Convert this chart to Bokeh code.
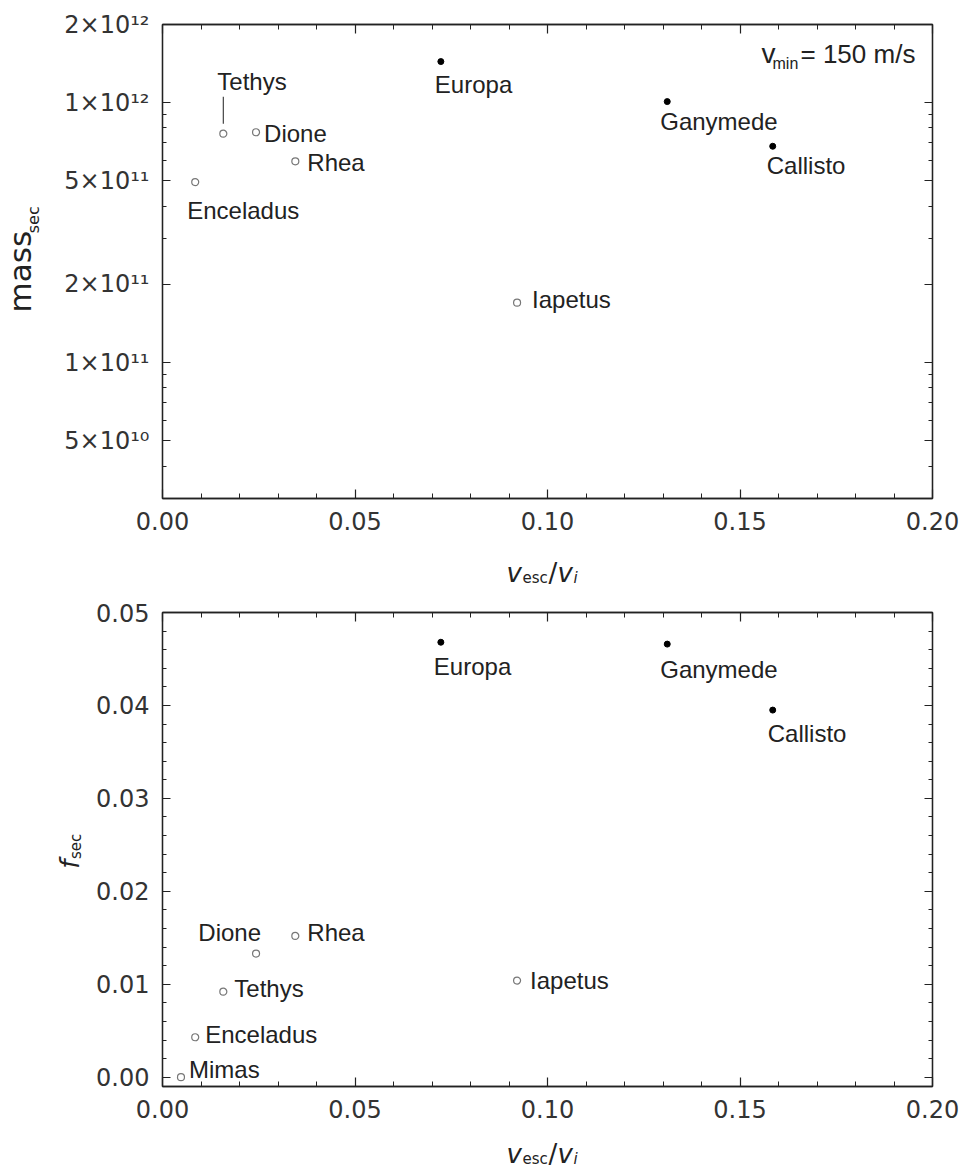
import math
from bokeh.plotting import figure
from bokeh.layouts import column, row
from bokeh.models import (ColumnDataSource, FixedTicker, LinearAxis, LogAxis, Label,
                          NumeralTickFormatter, Range1d, CustomLabelingPolicy)
from bokeh.core.properties import value
from bokeh.embed import file_html
from bokeh.resources import INLINE

# ---------------- data ----------------
moons = ["Mimas", "Enceladus", "Tethys", "Dione", "Rhea", "Iapetus", "Europa", "Ganymede", "Callisto"]
system = ["Saturn", "Saturn", "Saturn", "Saturn", "Saturn", "Saturn", "Jupiter", "Jupiter", "Jupiter"]
vesc_vi = [0.0048, 0.0085, 0.0158, 0.0243, 0.0345, 0.0921, 0.0723, 0.1311, 0.1585]
mass_sec = [None, 4.95e11, 7.6e11, 7.7e11, 5.95e11, 1.70e11, 1.44e12, 1.01e12, 6.8e11]
f_sec = [0.0000, 0.0043, 0.0092, 0.0133, 0.0152, 0.0104, 0.0468, 0.0466, 0.0395]

x_ticks = [0.0, 0.05, 0.10, 0.15, 0.20]
mass_ticks = [5e10, 1e11, 2e11, 5e11, 1e12, 2e12]
mass_tick_labels = ["5×10¹⁰", "1×10¹¹", "2×10¹¹", "5×10¹¹", "1×10¹²", "2×10¹²"]
f_ticks = [0.00, 0.01, 0.02, 0.03, 0.04, 0.05]
vmin_label = "= 150 m/s"

# ---------------- style / layout ----------------
# label offsets (pixels; dx right, dy down) and alignment for each moon label
CORR = 9  # baseline correction for 24px labels
top_dx = [0, -8, -6, 8, 12, 15, -6, -7, -6]
top_dy = [0, 37, -43, 10, 10, 6, 32, 29, 28]
top_align = ["left"] * 9
bot_dx = [8, 10, 11, 5, 12, 13, -7, -7, -5]
bot_dy = [1, 6, 6, -12, 6, 9, 33, 34, 32]
bot_align = ["left", "left", "left", "right", "left", "left", "left", "left", "left"]

INK = "#222222"
TICK_FONT = "DejaVu Sans"
LABEL_FONT = "Liberation Sans"

HIDE = CustomLabelingPolicy(code="""
for (const i of indices)
    indices.unset(i)
return indices
""")


def style_axis(ax, show_labels=True):
    ax.axis_line_color = INK
    ax.axis_line_width = 1.3
    ax.major_tick_in = 8
    ax.major_tick_out = 0
    ax.minor_tick_in = 4
    ax.minor_tick_out = 0
    ax.major_tick_line_color = INK
    ax.minor_tick_line_color = INK
    ax.major_tick_line_width = 1.2
    ax.minor_tick_line_width = 1.0
    ax.major_label_text_font = TICK_FONT
    ax.major_label_text_color = "#333333"
    if show_labels:
        ax.major_label_text_font_size = "24px"
        ax.major_label_standoff = 13
    else:
        ax.major_label_text_font_size = "2px"
        ax.major_label_standoff = 0
        ax.major_label_policy = HIDE
    ax.axis_label = None


def base_fig(width, height, y_range, y_type, mbl, mbt, mbb):
    p = figure(width=width, height=height, x_range=Range1d(0.0, 0.2), y_range=y_range,
               y_axis_type=y_type, output_backend="svg", toolbar_location=None,
               min_border_left=mbl, min_border_right=32, min_border_top=mbt,
               min_border_bottom=mbb)
    p.xgrid.visible = False
    p.ygrid.visible = False
    p.outline_line_color = INK
    p.outline_line_width = 1.3
    p.background_fill_color = "white"
    p.border_fill_color = "white"
    return p


def blank_fig(w, h):
    f = figure(width=w, height=h, x_range=Range1d(0, w), y_range=Range1d(h, 0),
               min_border=0, toolbar_location=None, output_backend="svg",
               x_axis_location=None, y_axis_location=None)
    for g in f.grid:
        g.visible = False
    f.outline_line_color = None
    f.border_fill_color = "white"
    f.background_fill_color = "white"
    return f


def put(f, x, y, text, size, font="DejaVu Sans", italic=False, angle=0.0):
    f.text(x=[x], y=[y], text=[text], angle=angle, text_align="left",
           text_baseline="alphabetic", text_font=value(font), text_font_size=value(size),
           text_font_style="italic" if italic else "normal", text_color=INK)


x_minor = [round(0.01 * i, 2) for i in range(21)]


def x_axes(p):
    p.xaxis.ticker = FixedTicker(ticks=x_ticks, minor_ticks=x_minor)
    p.xaxis.formatter = NumeralTickFormatter(format="0.00")
    style_axis(p.xaxis[0])
    p.xaxis[0].major_tick_in = 9
    p.xaxis[0].minor_tick_in = 5
    top = LinearAxis(ticker=FixedTicker(ticks=x_ticks, minor_ticks=x_minor))
    style_axis(top, show_labels=False)
    top.major_tick_in = 9
    top.minor_tick_in = 5
    p.add_layout(top, "above")


def x_label_fig(w, h, base):
    f = blank_fig(w, h)
    put(f, 506, base, "v", "26px", italic=True)
    put(f, 522, base + 5, "esc", "15px")
    put(f, 548, base, "/", "26px")
    put(f, 557, base, "v", "26px", italic=True)
    put(f, 573, base + 5, "i", "15px", italic=True)
    return f


# ---------------- top panel: mass_sec ----------------
ymin1, ymax1 = 3e10, 2e12
p1 = base_fig(908, 545, Range1d(ymin1, ymax1), "log", 106, 24, 47)
x_axes(p1)
mass_minor = [m * 10 ** e for e in (10, 11) for m in (3, 4, 6, 7, 8, 9)]
p1.yaxis.ticker = FixedTicker(ticks=mass_ticks, minor_ticks=mass_minor)
style_axis(p1.yaxis[0])
p1.yaxis[0].major_label_overrides = {t: s for t, s in zip(mass_ticks, mass_tick_labels)}
r1 = LogAxis(ticker=FixedTicker(ticks=mass_ticks, minor_ticks=mass_minor))
style_axis(r1, show_labels=False)
p1.add_layout(r1, "right")

idx1 = [i for i in range(len(moons)) if mass_sec[i] is not None]
sat1 = [i for i in idx1 if system[i] == "Saturn"]
jup1 = [i for i in idx1 if system[i] == "Jupiter"]
p1.scatter(x=[vesc_vi[i] for i in sat1], y=[mass_sec[i] for i in sat1], size=7,
           fill_color=None, line_color="#777777", line_width=1.2)
p1.scatter(x=[vesc_vi[i] for i in jup1], y=[mass_sec[i] for i in jup1], size=6,
           fill_color="black", line_color="black")

src1 = ColumnDataSource(dict(
    x=[vesc_vi[i] for i in idx1], y=[mass_sec[i] for i in idx1], name=[moons[i] for i in idx1],
    dx=[top_dx[i] for i in idx1], dy=[top_dy[i] - CORR for i in idx1],
    align=[top_align[i] for i in idx1]))
p1.text(x="x", y="y", text="name", x_offset="dx", y_offset="dy", text_align="align",
        text_baseline="alphabetic", source=src1, text_font=value(LABEL_FONT),
        text_font_size=value("24px"), text_color=INK)

# leader line for Tethys (pixel offsets converted to multiplicative log factors)
frame_h1 = 545 - 24 - 47
ppd = frame_h1 / math.log10(ymax1 / ymin1)
ti = moons.index("Tethys")
p1.segment(x0=[vesc_vi[ti]], x1=[vesc_vi[ti]],
           y0=[mass_sec[ti] * 10 ** (10 / ppd)], y1=[mass_sec[ti] * 10 ** (37 / ppd)],
           line_color="#444444", line_width=1.2)

# v_min annotation (anchored at frame top-right, inside the frame)
for txt, xo, yo, sz in [("v", -171, -37, 28), ("min", -160, -44, 16), (vmin_label, -132, -37, 26)]:
    p1.add_layout(Label(x=0.2, y=ymax1, x_offset=xo, y_offset=yo + round(0.3 * sz), text=txt,
                        text_font=LABEL_FONT, text_font_size=f"{sz}px", text_color=INK,
                        text_align="left", text_baseline="alphabetic"))

yl1 = blank_fig(56, 545)
put(yl1, 19, 331, "mass", "31px", angle=math.pi / 2)
put(yl1, 33, 240, "sec", "16px", angle=math.pi / 2)
xl1 = x_label_fig(964, 47, 27)

# ---------------- bottom panel: f_sec ----------------
ymin2, ymax2 = -0.001, 0.05
p2 = base_fig(876, 542, Range1d(ymin2, ymax2), "linear", 74, 20, 48)
x_axes(p2)
f_minor = [round(0.002 * i, 3) for i in range(26)]
p2.yaxis.ticker = FixedTicker(ticks=f_ticks, minor_ticks=f_minor)
p2.yaxis.formatter = NumeralTickFormatter(format="0.00")
style_axis(p2.yaxis[0])
r2 = LinearAxis(ticker=FixedTicker(ticks=f_ticks, minor_ticks=f_minor))
style_axis(r2, show_labels=False)
p2.add_layout(r2, "right")

sat2 = [i for i in range(len(moons)) if system[i] == "Saturn"]
jup2 = [i for i in range(len(moons)) if system[i] == "Jupiter"]
p2.scatter(x=[vesc_vi[i] for i in sat2], y=[f_sec[i] for i in sat2], size=7,
           fill_color=None, line_color="#777777", line_width=1.2)
p2.scatter(x=[vesc_vi[i] for i in jup2], y=[f_sec[i] for i in jup2], size=6,
           fill_color="black", line_color="black")

src2 = ColumnDataSource(dict(x=vesc_vi, y=f_sec, name=moons, dx=bot_dx,
                             dy=[d - CORR for d in bot_dy], align=bot_align))
p2.text(x="x", y="y", text="name", x_offset="dx", y_offset="dy", text_align="align",
        text_baseline="alphabetic", source=src2, text_font=value(LABEL_FONT),
        text_font_size=value("24px"), text_color=INK)

yl2 = blank_fig(88, 542)
put(yl2, 69, 293, "f", "26px", italic=True, angle=math.pi / 2)
put(yl2, 75, 282, "sec", "15px", angle=math.pi / 2)
xl2 = x_label_fig(964, 36, 19)

layout = column(row(yl1, p1, spacing=0), xl1, row(yl2, p2, spacing=0), xl2, spacing=0)
open("out.html", "w").write(file_html(layout, INLINE))
